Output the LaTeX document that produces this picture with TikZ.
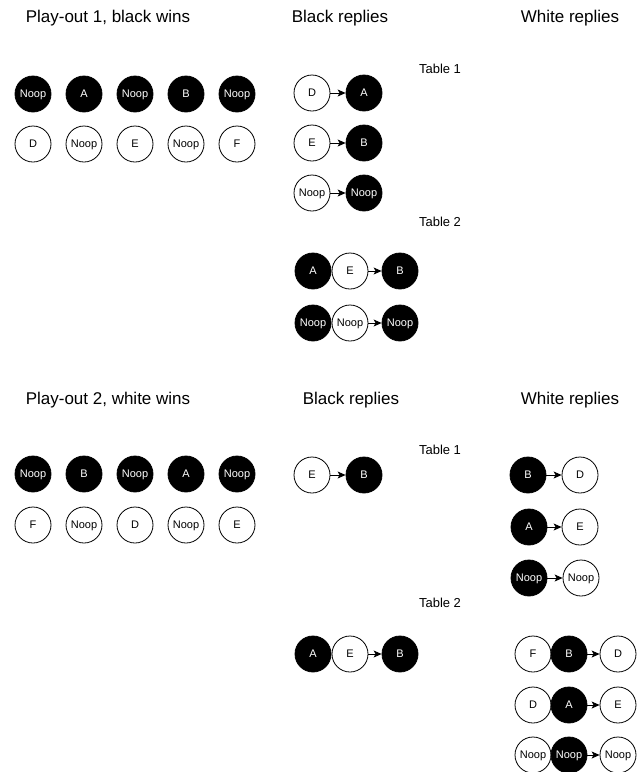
\documentclass[tikz,border=0pt]{standalone}
\usepackage{fontspec}
\setmainfont{Liberation Sans}
\usetikzlibrary{arrows.meta}
\begin{document}
\begin{tikzpicture}[x=1pt,y=-1pt,
  nd/.style={circle,draw=black,minimum size=36pt,inner sep=0pt,line width=0.8pt,font=\fontsize{11}{13}\selectfont,text height=7.9pt,text depth=0pt},
  bk/.style={nd,fill=black,text=white},
  wt/.style={nd,fill=white,text=black},
  hdr/.style={font=\fontsize{17}{20}\selectfont,inner sep=0pt},
  tbl/.style={font=\fontsize{13}{16}\selectfont,inner sep=0pt},
  arr/.style={-{Stealth[length=8pt,width=7pt,inset=2pt]},line width=0.8pt}]
\useasboundingbox (0,0) rectangle (642,772);
% headers
\node[hdr] (h1) at (108,18) {Play-out 1, black wins};
\node[hdr] (h2) at (340,18) {Black replies};
\node[hdr] (h3) at (570,18) {White replies};
\node[hdr] (h4) at (108,400) {Play-out 2, white wins};
\node[hdr] (h5) at (351,400) {Black replies};
\node[hdr] (h6) at (570,400) {White replies};
\node[tbl] (t1) at (440,69) {Table 1};
\node[tbl] (t2) at (440,222) {Table 2};
\node[tbl] (t3) at (440,450) {Table 1};
\node[tbl] (t4) at (440,603) {Table 2};
% play-out 1
\node[bk] (p1b1) at (33,94) {Noop};
\node[bk] (p1b2) at (84,94) {A};
\node[bk] (p1b3) at (135,94) {Noop};
\node[bk] (p1b4) at (186,94) {B};
\node[bk] (p1b5) at (237,94) {Noop};
\node[wt] (p1w1) at (33,144) {D};
\node[wt] (p1w2) at (84,144) {Noop};
\node[wt] (p1w3) at (135,144) {E};
\node[wt] (p1w4) at (186,144) {Noop};
\node[wt] (p1w5) at (237,144) {F};
% play-out 1 black replies table 1
\node[wt] (a1) at (312,93) {D};
\node[bk] (a2) at (364,93) {A};
\node[wt] (b1) at (312,143) {E};
\node[bk] (b2) at (364,143) {B};
\node[wt] (c1) at (312,193) {Noop};
\node[bk] (c2) at (364,193) {Noop};
\draw[arr] (a1) -- (a2);
\draw[arr] (b1) -- (b2);
\draw[arr] (c1) -- (c2);
% table 2
\node[bk] (d1) at (313,271) {A};
\node[wt] (d2) at (350,271) {E};
\node[bk] (d3) at (400,271) {B};
\node[bk] (e1) at (313,323) {Noop};
\node[wt] (e2) at (350,323) {Noop};
\node[bk] (e3) at (400,323) {Noop};
\draw[arr] (d2) -- (d3);
\draw[arr] (e2) -- (e3);
% play-out 2
\node[bk] (p2b1) at (33,474) {Noop};
\node[bk] (p2b2) at (84,474) {B};
\node[bk] (p2b3) at (135,474) {Noop};
\node[bk] (p2b4) at (186,474) {A};
\node[bk] (p2b5) at (237,474) {Noop};
\node[wt] (p2w1) at (33,525) {F};
\node[wt] (p2w2) at (84,525) {Noop};
\node[wt] (p2w3) at (135,525) {D};
\node[wt] (p2w4) at (186,525) {Noop};
\node[wt] (p2w5) at (237,525) {E};
% play-out 2 black replies
\node[wt] (f1) at (312,475) {E};
\node[bk] (f2) at (364,475) {B};
\draw[arr] (f1) -- (f2);
\node[bk] (g1) at (313,654) {A};
\node[wt] (g2) at (350,654) {E};
\node[bk] (g3) at (400,654) {B};
\draw[arr] (g2) -- (g3);
% play-out 2 white replies
\node[bk] (k1) at (528,475) {B};
\node[wt] (k2) at (580,475) {D};
\node[bk] (l1) at (529,527) {A};
\node[wt] (l2) at (580,527) {E};
\node[bk] (m1) at (529,578) {Noop};
\node[wt] (m2) at (581,578) {Noop};
\draw[arr] (k1) -- (k2);
\draw[arr] (l1) -- (l2);
\draw[arr] (m1) -- (m2);
\node[wt] (n1) at (533,654) {F};
\node[bk] (n2) at (569,654) {B};
\node[wt] (n3) at (618,654) {D};
\node[wt] (o1) at (533,705) {D};
\node[bk] (o2) at (569,705) {A};
\node[wt] (o3) at (618,705) {E};
\node[wt] (q1) at (533,755) {Noop};
\node[bk] (q2) at (569,755) {Noop};
\node[wt] (q3) at (618,755) {Noop};
\draw[arr] (n2) -- (n3);
\draw[arr] (o2) -- (o3);
\draw[arr] (q2) -- (q3);
\end{tikzpicture}
\end{document}
